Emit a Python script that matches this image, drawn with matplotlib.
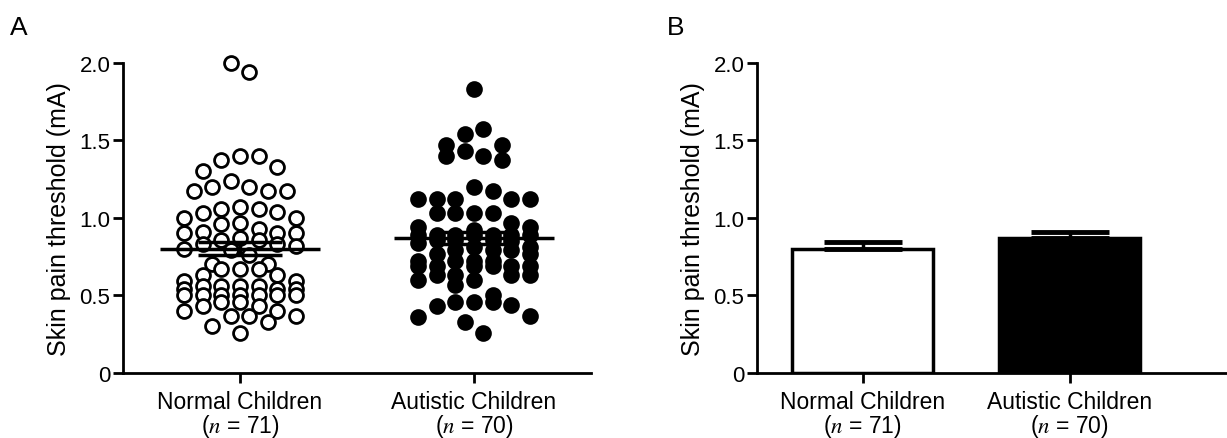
import numpy as np
import matplotlib
matplotlib.use("Agg")
import matplotlib.pyplot as plt
from matplotlib.ticker import FuncFormatter

plt.rcParams['font.family'] = ['Liberation Sans', 'DejaVu Sans']
plt.rcParams['mathtext.fontset'] = 'stix'

groups = ['Normal Children', 'Autistic Children']
n_counts = [71, 70]
yticks = [0, 0.5, 1.0, 1.5, 2.0]

# skin pain threshold (mA)
normal = [2.00, 1.94,
          1.40, 1.40, 1.37, 1.33, 1.30,
          1.24, 1.20, 1.20, 1.17, 1.17, 1.17,
          1.07, 1.06, 1.06, 1.04, 1.03, 1.00, 1.00,
          0.97, 0.96, 0.93,
          0.91, 0.90, 0.90, 0.90, 0.87, 0.86, 0.86,
          0.83, 0.83, 0.82, 0.80, 0.79,
          0.76, 0.70, 0.70, 0.67, 0.67, 0.67,
          0.63, 0.63, 0.59, 0.59,
          0.56, 0.56, 0.56, 0.56, 0.54, 0.54, 0.54,
          0.50, 0.50, 0.50, 0.50, 0.50, 0.50, 0.50,
          0.46, 0.46, 0.43, 0.43, 0.40, 0.40,
          0.37, 0.37, 0.37, 0.33, 0.30, 0.26]
autistic = [1.83,
            1.57, 1.54,
            1.47, 1.47, 1.43, 1.40, 1.40, 1.37,
            1.20, 1.17, 1.12, 1.12, 1.12, 1.12, 1.12,
            1.03, 1.03, 1.03, 1.03,
            0.97, 0.94, 0.94,
            0.92, 0.89, 0.89, 0.89, 0.89, 0.89, 0.89, 0.89, 0.86, 0.86,
            0.86, 0.85, 0.84,
            0.81, 0.81, 0.79, 0.79, 0.79, 0.77, 0.77,
            0.72, 0.72, 0.72, 0.72,
            0.69, 0.69, 0.69, 0.69, 0.69, 0.69,
            0.63, 0.63, 0.63, 0.63, 0.60, 0.60, 0.57,
            0.50, 0.46, 0.46, 0.46, 0.44, 0.43,
            0.37, 0.36, 0.33, 0.26]

data = [np.array(normal), np.array(autistic)]
means = [d.mean() for d in data]
sems = [d.std(ddof=1) / np.sqrt(len(d)) for d in data]


def row_scatter(vals, center, px_x, gap=18.6, binw=0.1, cap=7):
    # GraphPad-like layout: values within binw share a row (max cap per row),
    # spread evenly about the centre, higher values in the middle slots
    order = np.argsort(-vals, kind='stable')
    xs = np.zeros(len(vals))
    rows, cur, start = [], [], None
    for i in order:
        if cur and (start - vals[i] > binw + 1e-9 or len(cur) >= cap):
            rows.append(cur)
            cur = []
        if not cur:
            start = vals[i]
        cur.append(i)
    rows.append(cur)
    for k, r in enumerate(rows):
        m = len(r)
        slots = [(j - (m - 1) / 2) for j in range(m)]
        sgn = -1 if k % 2 else 1
        slots.sort(key=lambda s: (abs(s), sgn * s))
        for s, i in zip(slots, r):
            xs[i] = center + s * gap / px_x
    return xs


fig = plt.figure(figsize=(12.27, 4.39), dpi=100)
bot = 1 - 374 / 439
hgt = (374 - 63.7) / 439
axA = fig.add_axes([123 / 1227, bot, (591 - 123) / 1227, hgt])
axB = fig.add_axes([757 / 1227, bot, (1227 - 757) / 1227, hgt])

fmt = FuncFormatter(lambda v, p: '0' if v == 0 else f'{v:.1f}')
xlabels = [f'{g}\n($n$ = {n})' for g, n in zip(groups, n_counts)]

for ax in (axA, axB):
    ax.spines['top'].set_visible(False)
    ax.spines['right'].set_visible(False)
    ax.spines['left'].set_linewidth(2)
    ax.spines['bottom'].set_linewidth(2)
    ax.set_ylim(0, 2.0)
    ax.set_yticks(yticks)
    ax.yaxis.set_major_formatter(fmt)
    ax.tick_params(axis='both', width=2, length=7, labelsize=16)
    ax.tick_params(axis='y', pad=2)
    ax.tick_params(axis='x', pad=5)
    ax.set_xticks([1, 2])
    ax.set_xticklabels(xlabels, fontsize=16.5, linespacing=0.95)
    ax.set_ylabel('Skin pain threshold (mA)', fontsize=18, labelpad=6)

# panel A: column scatter with mean and SEM
axA.set_xlim(0.5, 2.5)
px_x = 234.0
styles = [dict(facecolors='white', edgecolors='black'), dict(facecolors='black', edgecolors='black')]
for i, vals in enumerate(data):
    xs = row_scatter(vals, i + 1, px_x)
    axA.scatter(xs, vals, s=100, linewidths=2, clip_on=False, zorder=3, **styles[i])
    axA.hlines(means[i], i + 1 - 0.34, i + 1 + 0.34, color='black', lw=2.5, zorder=4)
    axA.hlines([means[i] - sems[i], means[i] + sems[i]], i + 1 - 0.18, i + 1 + 0.18,
               color='black', lw=2.5, zorder=4)
    axA.vlines(i + 1, means[i] - sems[i], means[i] + sems[i], color='black', lw=2.5, zorder=4)

# panel B: mean with SEM bars
axB.set_xlim(0.49, 2.76)
axB.bar([1, 2], means, width=0.68, color=['white', 'black'], edgecolor='black', linewidth=2.5,
        yerr=[[0, 0], sems], error_kw=dict(ecolor='black', elinewidth=2.5, capsize=28, capthick=3.5))

fig.text(10 / 1227, 1 - 28 / 439, 'A', fontsize=19, va='center')
fig.text(667 / 1227, 1 - 28 / 439, 'B', fontsize=19, va='center')

fig.savefig('out.png', dpi=100)
